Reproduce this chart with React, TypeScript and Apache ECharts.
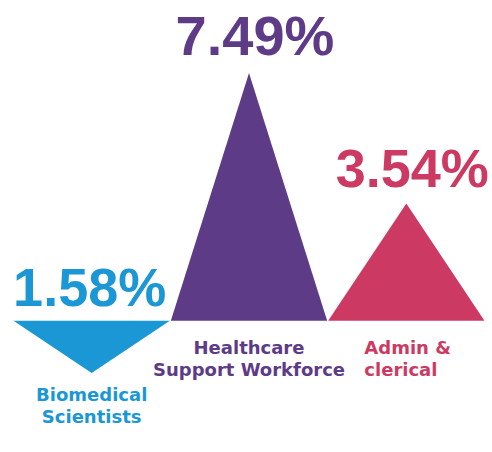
import React, { useEffect, useRef } from "react";
import * as echarts from "echarts";

const categories = ["Biomedical\nScientists", "Healthcare\nSupport Workforce", "Admin &\nclerical"];
const changes = [-1.58, 7.49, 3.54];
const colors = ["#1a97d4", "#5d3b87", "#cc3a64"];

export default function App() {
  const ref = useRef<HTMLDivElement>(null);
  useEffect(() => {
    document.body.style.margin = "0";
    if (!ref.current) return;
    const chart = echarts.init(ref.current, null, { renderer: "svg" });
    const data = changes.map((v, i) => [i, v]);
    chart.setOption({
      animation: false,
      backgroundColor: "#ffffff",
      grid: { left: 13, right: 7, top: 56, bottom: 32 },
      xAxis: { type: "category", data: categories, show: false },
      yAxis: { type: "value", min: -3, max: 8, show: false },
      series: [
        {
          type: "custom",
          data,
          renderItem: (params: any, api: any) => {
            const idx = api.value(0);
            const v = api.value(1);
            const base = api.coord([idx, 0]);
            const tip = api.coord([idx, v]);
            const bw = api.size([1, 0])[0];
            const color = colors[idx];
            const pos = v >= 0;
            const label = `${Math.abs(v).toFixed(2)}%`;
            const children: any[] = [
              {
                type: "polygon",
                shape: {
                  points: [
                    [base[0] - bw / 2 + 0.5, base[1]],
                    [base[0] + bw / 2 - 0.5, base[1]],
                    [tip[0], tip[1]],
                  ],
                },
                style: { fill: color },
              },
              {
                type: "text",
                x: pos ? tip[0] + 6 : base[0] - 2,
                y: pos ? tip[1] - 9 : base[1] - 7,
                style: {
                  text: label,
                  fill: color,
                  fontFamily: "Liberation Sans, Arial, sans-serif",
                  fontWeight: "bold",
                  fontSize: idx === 1 ? 56 : 54,
                  align: "center",
                  verticalAlign: "bottom",
                },
              },
            ];
            const isLast = idx === categories.length - 1;
            children.push({
              type: "text",
              x: isLast ? base[0] - 42 : base[0],
              y: pos ? base[1] + 16 : tip[1] + 10,
              style: {
                text: categories[idx],
                fill: color,
                fontFamily: "DejaVu Sans, sans-serif",
                fontWeight: "bold",
                fontSize: 18,
                lineHeight: 22,
                align: isLast ? "left" : "center",
                verticalAlign: "top",
              },
            });
            return { type: "group", children };
          },
        },
      ],
    });
    return () => chart.dispose();
  }, []);
  return <div ref={ref} style={{ width: 492, height: 452 }} />;
}
